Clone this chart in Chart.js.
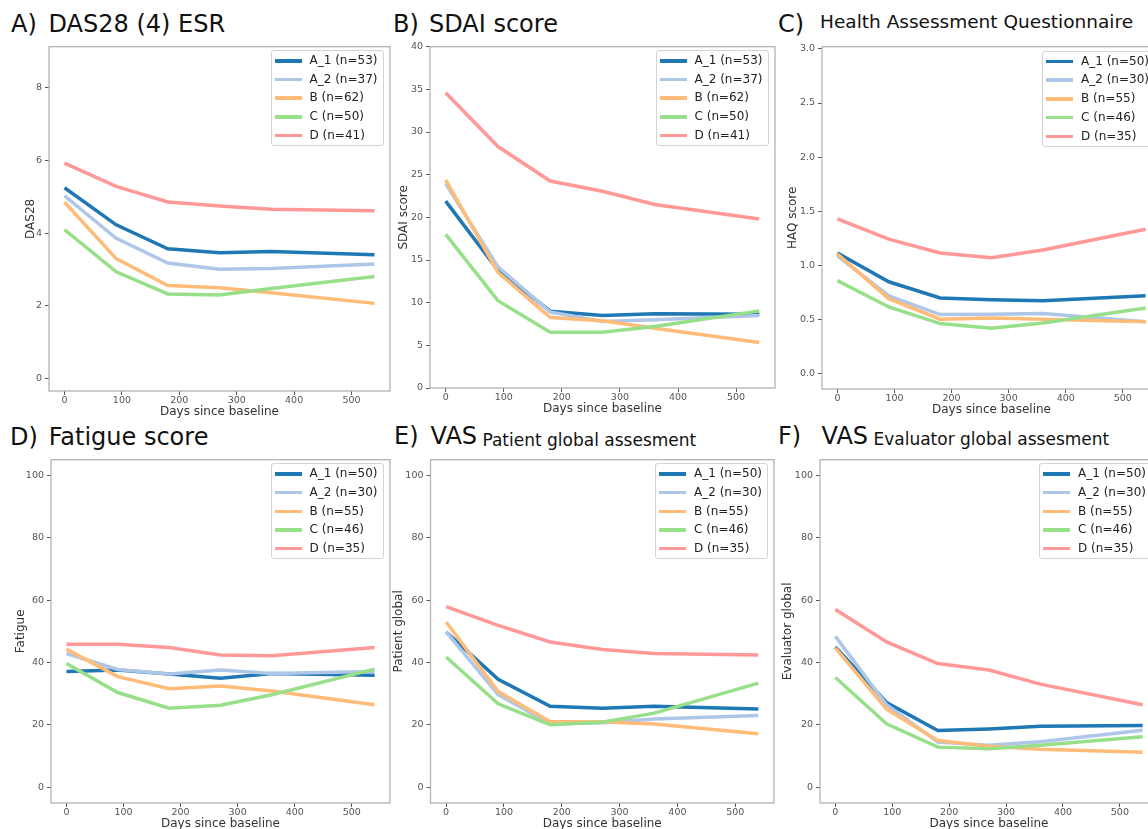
<!DOCTYPE html>
<html>
<head>
<meta charset="utf-8">
<script src="https://cdn.jsdelivr.net/npm/chart.js@4.4.1/dist/chart.umd.min.js"></script>
<style>
  html, body { margin: 0; padding: 0; background: #fff; }
  body { position: relative; width: 1148px; height: 829px; overflow: hidden; font-family: 'DejaVu Sans', sans-serif; }
  canvas { position: absolute; }
  .ttl { position: absolute; font-size: 24px; line-height: 24px; color: #111; white-space: nowrap; }
  .sub { position: relative; }
  .legend { position: absolute; width: 113px; height: 96px; box-sizing: border-box; border: 1px solid #d4d4d4; border-radius: 3px; background: rgba(255,255,255,.85); font-size: 12px; color: #222; padding-top: 0px; }
  .legend .row { position: relative; height: 18.7px; line-height: 18.7px; white-space: nowrap; }
  .legend .sw { position: absolute; left: 3px; top: 8px; width: 27px; height: 3.5px; }
  .legend .tx { position: absolute; left: 38px; top: 0; }
</style>
</head>
<body>
<div class="ttl" style="left:11px;top:11.7px">A)</div>
<div class="ttl" style="left:48.5px;top:11.7px">DAS28 (4) ESR</div>
<div class="ttl" style="left:393px;top:11.7px">B)</div>
<div class="ttl" style="left:429px;top:11.7px">SDAI score</div>
<div class="ttl" style="left:778px;top:11.7px">C)</div>
<div class="ttl" style="left:820px;top:11.7px"><span class="sub" style="font-size:18.5px;top:-3.7px">Health Assessment Questionnaire</span></div>
<div class="ttl" style="left:10px;top:424.7px">D)</div>
<div class="ttl" style="left:48.7px;top:424.7px">Fatigue score</div>
<div class="ttl" style="left:394px;top:424.2px">E)</div>
<div class="ttl" style="left:430.5px;top:424.2px">VAS<span class="sub" style="font-size:17px;top:2px"> Patient global assesment</span></div>
<div class="ttl" style="left:778px;top:424.2px">F)</div>
<div class="ttl" style="left:821.5px;top:424.2px">VAS<span class="sub" style="font-size:17px;top:0.5px"> Evaluator global assesment</span></div>

<script>
// visit days (x) and tick values
var days = [0, 90, 180, 270, 360, 540];
var xTicks = [0, 100, 200, 300, 400, 500];
var groups = ['A_1', 'A_2', 'B', 'C', 'D'];
var nDas = [53, 37, 62, 50, 41];
var nOther = [50, 30, 55, 46, 35];
var colors = ['#1f77b4', '#aec7e8', '#ffbb78', '#98df8a', '#ff9896'];

var das28Ticks = [0, 2, 4, 6, 8];
var sdaiTicks = [0, 5, 10, 15, 20, 25, 30, 35, 40];
var haqTicks = [0, 0.5, 1, 1.5, 2, 2.5, 3];
var scoreTicks = [0, 20, 40, 60, 80, 100];

// one row per group, in the order of groups
var das28 = [
  [5.25, 4.23, 3.57, 3.46, 3.50, 3.41],
  [5.03, 3.86, 3.18, 3.01, 3.03, 3.15],
  [4.85, 3.30, 2.56, 2.50, 2.36, 2.07],
  [4.10, 2.94, 2.33, 2.30, 2.48, 2.81],
  [5.93, 5.29, 4.86, 4.75, 4.66, 4.62]
];
var sdai = [
  [21.9, 13.8, 9.0, 8.5, 8.7, 8.65],
  [23.95, 14.2, 8.9, 7.8, 8.0, 8.5],
  [24.4, 13.55, 8.26, 7.87, 7.0, 5.34],
  [18.0, 10.24, 6.54, 6.54, 7.2, 9.04],
  [34.6, 28.3, 24.26, 23.06, 21.5, 19.8]
];
var haq = [
  [1.115, 0.85, 0.70, 0.685, 0.675, 0.72],
  [1.09, 0.72, 0.547, 0.55, 0.556, 0.48],
  [1.106, 0.694, 0.504, 0.516, 0.504, 0.48],
  [0.86, 0.617, 0.464, 0.42, 0.47, 0.608],
  [1.43, 1.243, 1.115, 1.072, 1.143, 1.335]
];
var fatigue = [
  [37.1, 37.6, 36.3, 35.0, 36.5, 35.9],
  [42.9, 37.8, 36.3, 37.6, 36.5, 37.1],
  [44.3, 35.5, 31.6, 32.5, 30.9, 26.5],
  [39.7, 30.4, 25.4, 26.3, 29.7, 37.9],
  [45.9, 45.9, 44.8, 42.4, 42.2, 44.8]
];
var patient = [
  [49.8, 34.6, 26.0, 25.4, 26.0, 25.1],
  [49.8, 29.7, 20.4, 20.7, 21.9, 23.0],
  [53.0, 30.7, 21.0, 21.0, 20.3, 17.2],
  [41.8, 26.8, 20.1, 20.9, 23.8, 33.4],
  [57.9, 51.9, 46.6, 44.2, 42.9, 42.4]
];
var evaluator = [
  [45.0, 27.2, 18.2, 18.75, 19.6, 19.8],
  [48.4, 26.5, 14.5, 13.5, 14.6, 18.3],
  [44.7, 25.1, 15.0, 13.2, 12.2, 11.3],
  [35.2, 20.4, 12.9, 12.4, 13.5, 16.2],
  [57.0, 46.6, 39.7, 37.6, 33.1, 26.5]
];

// panel frames in page pixels (l,t,r,b = plot box, ytx = centre of y title)
var panels = [
  { vals: das28, n: nDas, ticks: das28Ticks, ymin: -0.34, ymax: 9.13, ylabel: 'DAS28', box: [49, 43.5, 389.5, 390.5], ytx: 30.7, dec: 0 },
  { vals: sdai, n: nDas, ticks: sdaiTicks, ymin: 0, ymax: 40, ylabel: 'SDAI score', box: [430, 43.5, 774.5, 387], ytx: 404, dec: 0 },
  { vals: haq, n: nOther, ticks: haqTicks, ymin: -0.14, ymax: 3.02, ylabel: 'HAQ score', box: [822, 44.3, 1161, 389.3], ytx: 792.7, dec: 1 },
  { vals: fatigue, n: nOther, ticks: scoreTicks, ymin: -5, ymax: 105, ylabel: 'Fatigue', box: [51, 456.7, 389.5, 803], ytx: 20.7, dec: 0 },
  { vals: patient, n: nOther, ticks: scoreTicks, ymin: -5, ymax: 105, ylabel: 'Patient global', box: [430.5, 456.7, 774, 803], ytx: 399, dec: 0 },
  { vals: evaluator, n: nOther, ticks: scoreTicks, ymin: -5, ymax: 105, ylabel: 'Evaluator global', box: [820, 456.7, 1158, 803], ytx: 788, dec: 0 }
];

Chart.defaults.font.family = "'DejaVu Sans', sans-serif";

var frame = {
  id: 'frame',
  afterDatasetsDraw: function (chart) {
    var a = chart.chartArea, ctx = chart.ctx;
    ctx.save();
    ctx.strokeStyle = '#b3b3b3';
    ctx.lineWidth = 1.3;
    ctx.strokeRect(a.left, a.top, a.right - a.left, a.bottom - a.top);
    ctx.restore();
  }
};

var PAD_T = 6, PAD_R = 4, X_H = 28;

panels.forEach(function (p) {
  var l = p.box[0], t = p.box[1], r = p.box[2], b = p.box[3];
  var left = Math.round(p.ytx - 7.2);
  var top = t - PAD_T;
  var yW = l - left;

  var cv = document.createElement('canvas');
  cv.width = Math.round(r + PAD_R - left);
  cv.height = Math.round(b + X_H - top);
  cv.style.left = left + 'px';
  cv.style.top = top + 'px';
  document.body.appendChild(cv);

  var datasets = groups.map(function (g, i) {
    return {
      label: g + ' (n=' + p.n[i] + ')',
      data: days.map(function (d, j) { return { x: d, y: p.vals[i][j] }; }),
      borderColor: colors[i],
      backgroundColor: colors[i],
      borderWidth: 3.5,
      pointRadius: 0,
      tension: 0,
      fill: false,
      order: groups.length - 1 - i
    };
  });

  new Chart(cv, {
    type: 'line',
    data: { datasets: datasets },
    options: {
      responsive: false,
      animation: false,
      events: [],
      layout: { padding: { top: PAD_T, right: PAD_R, left: 0, bottom: 0 } },
      plugins: { legend: { display: false }, tooltip: { enabled: false } },
      scales: {
        x: {
          type: 'linear', min: -27, max: 567,
          afterBuildTicks: function (s) { s.ticks = xTicks.map(function (v) { return { value: v }; }); },
          afterFit: function (s) { s.height = X_H; },
          border: { display: false },
          grid: { drawOnChartArea: false, drawTicks: true, tickLength: 4, tickColor: '#555', tickWidth: 1 },
          ticks: { padding: 0, color: '#555', font: { size: 9.5 }, maxRotation: 0, autoSkip: false },
          title: { display: true, text: 'Days since baseline', color: '#333', font: { size: 12 }, padding: 0 }
        },
        y: {
          type: 'linear', min: p.ymin, max: p.ymax,
          afterBuildTicks: function (s) { s.ticks = p.ticks.map(function (v) { return { value: v }; }); },
          afterFit: function (s) { s.width = yW; },
          border: { display: false },
          grid: { drawOnChartArea: false, drawTicks: true, tickLength: 4, tickColor: '#555', tickWidth: 1 },
          ticks: { padding: 3, color: '#555', font: { size: 9.5 }, autoSkip: false,
            callback: function (v) { return p.dec ? v.toFixed(p.dec) : String(v); } },
          title: { display: true, text: p.ylabel, color: '#333', font: { size: 12 }, padding: 0 }
        }
      }
    },
    plugins: [frame]
  });

  // legend box in the upper right of the plot
  var lg = document.createElement('div');
  lg.className = 'legend';
  lg.style.left = (r - 6 - 113) + 'px';
  lg.style.top = (t + 6.5) + 'px';
  datasets.forEach(function (ds) {
    var row = document.createElement('div');
    row.className = 'row';
    var sw = document.createElement('span');
    sw.className = 'sw';
    sw.style.background = ds.borderColor;
    var tx = document.createElement('span');
    tx.className = 'tx';
    tx.textContent = ds.label;
    row.appendChild(sw);
    row.appendChild(tx);
    lg.appendChild(row);
  });
  document.body.appendChild(lg);
});
</script>
</body>
</html>
